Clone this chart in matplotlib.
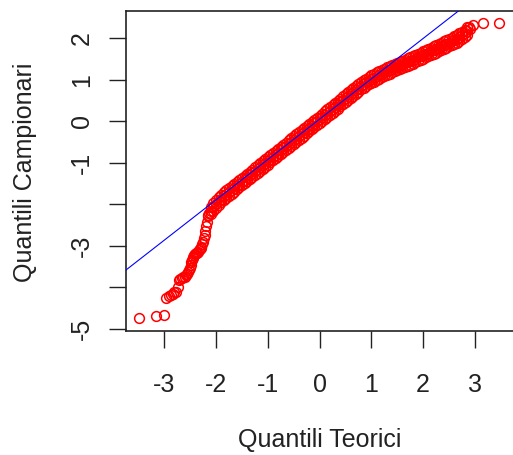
import matplotlib.pyplot as plt

plt.rcParams['font.family'] = ['Liberation Sans', 'DejaVu Sans']

# theoretical vs sample quantiles
# lower tail (single points)
tail_lo_x = [-3.49, -3.17, -3.01, -2.96, -2.90, -2.87, -2.84, -2.81, -2.78, -2.74,
             -2.71, -2.69, -2.66, -2.63, -2.61, -2.59, -2.57, -2.54, -2.53, -2.51,
             -2.49, -2.48, -2.47, -2.45, -2.44, -2.42, -2.40, -2.38, -2.36, -2.35,
             -2.33, -2.32, -2.30, -2.29, -2.27, -2.25, -2.24, -2.22, -2.21, -2.19,
             -2.18, -2.16, -2.15, -2.13]
tail_lo_y = [-4.74, -4.69, -4.66, -4.26, -4.20, -4.18, -4.15, -4.12, -4.10, -3.98,
             -3.82, -3.80, -3.78, -3.76, -3.74, -3.70, -3.68, -3.62, -3.58, -3.54,
             -3.45, -3.38, -3.35, -3.30, -3.26, -3.22, -3.20, -3.18, -3.16, -3.14,
             -3.10, -3.08, -3.05, -3.02, -2.96, -2.90, -2.82, -2.73, -2.64, -2.53,
             -2.42, -2.29, -2.25, -2.21]

# dense body: upper edge, middle and lower edge of the band
body_x = [-2.10, -2.05, -2.00, -1.95, -1.90, -1.85, -1.80, -1.75, -1.70, -1.65,
          -1.60, -1.55, -1.50, -1.45, -1.40, -1.35, -1.30, -1.25, -1.20, -1.15,
          -1.10, -1.05, -1.00, -0.95, -0.90, -0.85, -0.80, -0.75, -0.70, -0.65,
          -0.60, -0.55, -0.50, -0.45, -0.40, -0.35, -0.30, -0.25, -0.20, -0.15,
          -0.10, -0.05, 0.00, 0.05, 0.10, 0.15, 0.20, 0.25, 0.30, 0.35,
          0.40, 0.45, 0.50, 0.55, 0.60, 0.65, 0.70, 0.75, 0.80, 0.85,
          0.90, 0.95, 1.00, 1.05, 1.10, 1.15, 1.20, 1.25, 1.30, 1.35,
          1.40, 1.45, 1.50, 1.55, 1.60, 1.65, 1.70, 1.75, 1.80, 1.85,
          1.90, 1.95, 2.00, 2.05, 2.10, 2.15, 2.20, 2.25, 2.30, 2.35,
          2.40, 2.45, 2.50, 2.55, 2.60, 2.65, 2.70, 2.75, 2.80, 2.85]
body_y_hi = [-2.06, -1.97, -1.90, -1.83, -1.77, -1.71, -1.66, -1.61, -1.56, -1.51,
             -1.46, -1.41, -1.36, -1.31, -1.26, -1.21, -1.16, -1.11, -1.06, -1.01,
             -0.96, -0.91, -0.86, -0.81, -0.76, -0.71, -0.66, -0.61, -0.56, -0.51,
             -0.46, -0.41, -0.36, -0.31, -0.26, -0.21, -0.16, -0.11, -0.06, -0.01,
             0.04, 0.09, 0.14, 0.19, 0.24, 0.29, 0.34, 0.39, 0.44, 0.49,
             0.55, 0.60, 0.65, 0.70, 0.75, 0.80, 0.85, 0.90, 0.95, 0.99,
             1.03, 1.07, 1.11, 1.14, 1.18, 1.21, 1.24, 1.27, 1.30, 1.33,
             1.36, 1.39, 1.41, 1.44, 1.46, 1.49, 1.52, 1.54, 1.57, 1.60,
             1.63, 1.66, 1.69, 1.72, 1.75, 1.78, 1.81, 1.84, 1.87, 1.90,
             1.93, 1.96, 1.99, 2.02, 2.05, 2.08, 2.12, 2.16, 2.21, 2.27]
body_y_mid = [-2.15, -2.06, -1.99, -1.92, -1.86, -1.80, -1.75, -1.70, -1.65, -1.60,
              -1.55, -1.50, -1.45, -1.40, -1.35, -1.30, -1.25, -1.20, -1.15, -1.10,
              -1.05, -1.00, -0.95, -0.90, -0.85, -0.80, -0.75, -0.70, -0.65, -0.60,
              -0.55, -0.50, -0.45, -0.40, -0.35, -0.30, -0.25, -0.20, -0.15, -0.10,
              -0.05, 0.00, 0.05, 0.10, 0.15, 0.20, 0.25, 0.30, 0.35, 0.40,
              0.46, 0.51, 0.56, 0.61, 0.66, 0.71, 0.76, 0.81, 0.86, 0.90,
              0.94, 0.98, 1.02, 1.05, 1.09, 1.12, 1.15, 1.18, 1.21, 1.24,
              1.27, 1.30, 1.32, 1.35, 1.37, 1.40, 1.43, 1.45, 1.48, 1.51,
              1.54, 1.57, 1.60, 1.63, 1.66, 1.69, 1.72, 1.75, 1.78, 1.81,
              1.84, 1.87, 1.90, 1.93, 1.96, 1.99, 2.03, 2.07, 2.12, 2.18]
body_y_lo = [-2.24, -2.15, -2.08, -2.01, -1.95, -1.89, -1.84, -1.79, -1.74, -1.69,
             -1.64, -1.59, -1.54, -1.49, -1.44, -1.39, -1.34, -1.29, -1.24, -1.19,
             -1.14, -1.09, -1.04, -0.99, -0.94, -0.89, -0.84, -0.79, -0.74, -0.69,
             -0.64, -0.59, -0.54, -0.49, -0.44, -0.39, -0.34, -0.29, -0.24, -0.19,
             -0.14, -0.09, -0.04, 0.01, 0.06, 0.11, 0.16, 0.21, 0.26, 0.31,
             0.37, 0.42, 0.47, 0.52, 0.57, 0.62, 0.67, 0.72, 0.77, 0.81,
             0.85, 0.89, 0.93, 0.96, 1.00, 1.03, 1.06, 1.09, 1.12, 1.15,
             1.18, 1.21, 1.23, 1.26, 1.28, 1.31, 1.34, 1.36, 1.39, 1.42,
             1.45, 1.48, 1.51, 1.54, 1.57, 1.60, 1.63, 1.66, 1.69, 1.72,
             1.75, 1.78, 1.81, 1.84, 1.87, 1.90, 1.94, 1.98, 2.03, 2.09]

# upper tail
tail_hi_x = [2.88, 2.91, 2.97, 3.16, 3.47]
tail_hi_y = [2.27, 2.22, 2.33, 2.38, 2.38]

# reference line (qqline)
line_b = 0.055
line_m = 0.972

xticks = [-3, -2, -1, 0, 1, 2, 3]
xtick_labels = ['-3', '-2', '-1', '0', '1', '2', '3']
yticks = [-5, -4, -3, -2, -1, 0, 1, 2]
ytick_labels = ['-5', '', '-3', '', '-1', '0', '1', '2']

qx = tail_lo_x + body_x * 3 + tail_hi_x
qy = tail_lo_y + body_y_hi + body_y_mid + body_y_lo + tail_hi_y

fig = plt.figure(figsize=(5.13, 4.55), dpi=100)
ax = fig.add_axes([126 / 513, 1 - 331 / 455, 387 / 513, 320 / 455])

ax.plot(qx, qy, 'o', mfc='none', mec='#ff0000', ms=7.0, mew=1.1, zorder=2)
ax.axline((0, line_b), slope=line_m, color='#0000ff', lw=0.8, zorder=3)

ax.set_xlim(-3.74, 3.735)
ax.set_ylim(-5.05, 2.66)
ax.spines['right'].set_visible(False)
for s in ['left', 'top', 'bottom']:
    ax.spines[s].set_linewidth(1.2)
    ax.spines[s].set_color('#222222')

ax.set_xticks(xticks)
ax.set_xticklabels(xtick_labels, fontsize=18, color='#222222')
ax.set_yticks(yticks)
ax.set_yticklabels(ytick_labels, fontsize=18, rotation=90, va='center', color='#222222')
ax.tick_params(axis='both', length=12, width=1, color='#222222')
ax.tick_params(axis='x', pad=18)
ax.tick_params(axis='y', pad=11)

fig.text(320 / 513, 1 - 440 / 455, 'Quantili Teorici', fontsize=18, color='#222222',
         ha='center', va='center')
fig.text(25 / 513, 1 - 172 / 455, 'Quantili Campionari', fontsize=18, color='#222222',
         ha='center', va='center', rotation=90)

fig.savefig('out.png', dpi=100)
